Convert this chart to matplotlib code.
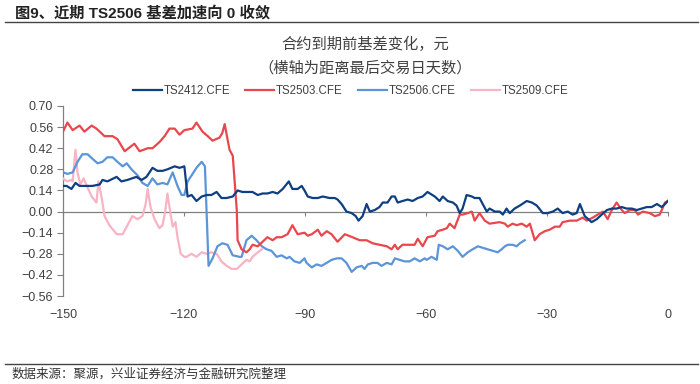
import matplotlib
matplotlib.use("Agg")
import matplotlib.pyplot as plt
import matplotlib.lines as mlines

plt.rcParams['font.family'] = ['Liberation Sans', 'Noto Sans CJK SC', 'DejaVu Sans']

# days to last trading day
x_2412 = [-150, -149.1, -147.9, -146.9, -145.9, -143.9, -142.7, -140.9, -140.2, -139, -136.7, -135.5,
          -134, -131.8, -130.5, -129.3, -127.8, -126.6, -125.3, -124.1, -122.3, -121.1, -119.9, -119.1,
          -118.1, -116.9, -115.6, -114.3, -113.2, -111.9, -110.7, -109.4, -107.9, -106.7, -105.5, -104.2,
          -103, -101.7, -100.5, -99.3, -98, -96.8, -95.5, -94, -93.1, -91.8, -90.8, -90.1, -89.3, -88.1,
          -86.8, -85.6, -83.9, -82.6, -81.9, -80.9, -79.7, -78.4, -77.4, -76.7, -75.7, -74.7, -73.9,
          -72.7, -71.5, -70.7, -69.5, -68.5, -67.7, -67, -65.8, -64.5, -63.3, -62, -60.8, -59.6, -57.8,
          -56.6, -55.8, -54.6, -53.3, -52.4, -51.6, -50.9, -49.9, -48.6, -47.9, -46.7, -45.9, -44.9,
          -44.2, -42.9, -41.7, -40.9, -40, -39.2, -38, -36.7, -35, -33.7, -32.5, -31, -29.8, -28.5,
          -27.3, -26.1, -24.8, -23.6, -22.6, -21.8, -20.6, -18.9, -17.6, -16.4, -15.1, -13.9, -12.7,
          -11.4, -10.2, -8.9, -7.7, -6.5, -5.2, -4, -2.7, -1.5, -0.7, 0]
y_2412 = [0.17, 0.17, 0.15, 0.19, 0.17, 0.17, 0.17, 0.18, 0.21, 0.20, 0.23, 0.20,
          0.21, 0.23, 0.21, 0.23, 0.29, 0.27, 0.27, 0.28, 0.30, 0.29, 0.30, 0.10,
          0.11, 0.07, 0.10, 0.11, 0.11, 0.13, 0.09, 0.09, 0.10, 0.14, 0.13, 0.13,
          0.13, 0.11, 0.12, 0.12, 0.13, 0.12, 0.15, 0.20, 0.15, 0.15, 0.17, 0.14, 0.10, 0.09,
          0.09, 0.10, 0.09, 0.09, 0.08, 0.05, 0.00, -0.01, -0.03, -0.06, -0.03, 0.05, 0.00,
          0.01, 0.03, 0.06, 0.06, 0.10, 0.10, 0.06, 0.07, 0.08, 0.07, 0.09, 0.10, 0.13, 0.10,
          0.07, 0.10, 0.07, 0.06, 0.04, -0.01, 0.02, 0.11, 0.10, 0.09, 0.09, 0.05, 0.00,
          0.02, 0.00, 0.00, -0.02, 0.02, -0.01, 0.02, 0.04, 0.07, 0.06, 0.04, -0.01, -0.01, 0.00,
          0.02, -0.01, 0.00, -0.02, -0.01, 0.05, -0.03, -0.07, -0.05, -0.02, 0.01, 0.02, 0.02,
          0.03, 0.02, 0.02, 0.01, 0.02, 0.03, 0.03, 0.05, 0.03, 0.05, 0.07]

x_2503 = [-150, -148.9, -147.6, -145.9, -144.7, -142.9, -141.7, -139.7, -137.7, -136.5, -134.7, -132.3,
          -131, -129, -127.8, -126.1, -124.8, -123.6, -122.3, -121.1, -119.9, -117.9, -116.9, -115.4,
          -114.1, -112.9, -111.2, -110.5, -109.9, -108.7, -107.9, -106.9, -106.7, -105.7, -104.5, -103.7,
          -103, -101.7, -100.5, -99.3, -98, -97, -95.8, -94.3, -93.1, -91.8, -90.1, -89.3, -88.3, -86.8,
          -85.9, -84.6, -83.4, -81.9, -80.1, -78.2, -76.4, -74.7, -73.2, -71.5, -69.7, -68.5, -67.7,
          -67, -65.8, -64, -62.8, -62, -60.8, -59.6, -57.8, -57.1, -55.8, -54.8, -54.1, -52.9, -51.6,
          -50.9, -49.6, -48.6, -47.9, -46.7, -45.4, -44.2, -41.7, -40.4, -39.7, -38.5, -37.5, -36.2,
          -35, -34.2, -33, -31.8, -30.5, -29.3, -28, -26.8, -26.1, -24.3, -22.6, -21.1, -20.1, -18.6,
          -17.4, -16.1, -14.9, -13.9, -12.7, -11.4, -10.7, -9.4, -8.2, -7.4, -6.2, -4.5, -3.2, -2,
          -0.7, 0]
y_2503 = [0.53, 0.59, 0.54, 0.57, 0.53, 0.57, 0.55, 0.50, 0.50, 0.48, 0.40, 0.45,
          0.40, 0.42, 0.42, 0.46, 0.50, 0.55, 0.55, 0.51, 0.54, 0.55, 0.59, 0.53,
          0.50, 0.47, 0.49, 0.52, 0.58, 0.41, 0.37, 0.01, -0.19, -0.25, -0.27, -0.25,
          -0.22, -0.23, -0.20, -0.17, -0.19, -0.17, -0.17, -0.15, -0.09, -0.15, -0.14, -0.16, -0.15, -0.12,
          -0.16, -0.13, -0.15, -0.20, -0.15, -0.17, -0.19, -0.19, -0.21, -0.22, -0.23, -0.25, -0.22,
          -0.25, -0.22, -0.22, -0.22, -0.18, -0.23, -0.17, -0.16, -0.13, -0.12, -0.11, -0.08, -0.11, -0.02,
          -0.02, -0.01, 0.00, -0.06, -0.01, -0.06, -0.08, -0.07, -0.08, -0.10, -0.08, -0.09, -0.08,
          -0.10, -0.08, -0.19, -0.15, -0.13, -0.12, -0.10, -0.10, -0.07, -0.06, -0.06, -0.04, -0.06, -0.04,
          -0.02, 0.00, -0.05, 0.01, 0.06, 0.01, -0.01, 0.01, 0.01, -0.02, 0.00, -0.01, -0.03, -0.02,
          0.06, 0.07]

x_2506 = [-150, -148.9, -147.6, -146.4, -145.2, -143.9, -142.7, -141.4, -140.2, -139, -137.7, -136.5,
          -135.2, -134.2, -133, -131.5, -130.3, -129, -127.8, -126.6, -125.3, -124.1, -122.8, -121.6,
          -120.6, -119.9, -119.1, -118.1, -116.9, -115.6, -114.8, -113.9, -112.9, -111.7, -110.5, -109.2,
          -107.9, -106.2, -105.7, -104.5, -103.2, -102, -100.7, -99.5, -98.3, -97, -95.8, -94.5, -93.8,
          -92.6, -91.3, -90.1, -89.6, -88.3, -87.1, -85.9, -84.6, -83.4, -82.1, -80.9, -79.7, -78.4,
          -77.2, -75.9, -75.2, -74.4, -73.2, -72, -71, -69.7, -68.5, -67.7, -66.5, -65.3, -64, -62.8,
          -61.5, -60.3, -59.8, -58.6, -57.3, -56.8, -55.8, -54.6, -53.3, -52.1, -50.9, -49.6, -48.4,
          -47.1, -45.9, -44.7, -43.4, -42.2, -41.2, -40.4, -39.7, -38.5, -37.5, -36.7, -35.5]
y_2506 = [0.26, 0.25, 0.26, 0.33, 0.38, 0.38, 0.35, 0.32, 0.33, 0.36, 0.36, 0.33,
          0.30, 0.32, 0.28, 0.24, 0.19, 0.17, 0.22, 0.18, 0.19, 0.18, 0.26, 0.17,
          0.11, 0.11, 0.20, 0.24, 0.29, 0.33, 0.30, -0.36, -0.31, -0.23, -0.21, -0.22,
          -0.29, -0.30, -0.30, -0.19, -0.16, -0.19, -0.23, -0.25, -0.26, -0.30, -0.29, -0.31, -0.30,
          -0.33, -0.34, -0.31, -0.34, -0.37, -0.35, -0.36, -0.34, -0.32, -0.31, -0.31, -0.34, -0.40,
          -0.37, -0.36, -0.38, -0.35, -0.34, -0.34, -0.36, -0.34, -0.35, -0.31, -0.32, -0.33, -0.33, -0.31,
          -0.33, -0.31, -0.32, -0.30, -0.32, -0.22, -0.23, -0.25, -0.23, -0.26, -0.30, -0.27, -0.25,
          -0.23, -0.24, -0.25, -0.26, -0.27, -0.25, -0.23, -0.22, -0.22, -0.23, -0.21, -0.19]

x_2509 = [-150, -149.6, -148.9, -147.9, -147.6, -146.9, -146.4, -145.7, -144.9, -143.9, -142.9, -141.7,
          -141.2, -140.4, -139.7, -138.5, -136.7, -135.2, -134, -132.8, -131.5, -130.3, -129.5, -129,
          -128.3, -127.3, -126.1, -125.3, -124.6, -124.1, -123.3, -122.8, -122.1, -121.6, -120.8, -119.9,
          -119.4, -118.1, -116.9, -115.6, -114.3, -113.2, -111.9, -110.7, -109.4, -108.2, -106.9, -105.7,
          -104.5, -103.7, -103, -101.7, -100.7]
y_2509 = [0.22, 0.21, 0.20, 0.21, 0.20, 0.41, 0.26, 0.18, 0.22, 0.16, 0.10, 0.06,
          0.20, 0.09, -0.03, -0.09, -0.15, -0.15, -0.09, -0.03, -0.05, -0.03, 0.05, 0.15,
          0.03, -0.05, -0.11, -0.09, 0.01, 0.12, -0.02, -0.10, -0.07, -0.17, -0.28, -0.30,
          -0.30, -0.28, -0.30, -0.27, -0.28, -0.27, -0.28, -0.33, -0.36, -0.38, -0.38, -0.35,
          -0.32, -0.33, -0.30, -0.27, -0.25]

names = ['TS2412.CFE', 'TS2503.CFE', 'TS2506.CFE', 'TS2509.CFE']
colors = ['#0e3f80', '#e8474d', '#5b95d8', '#f8b3c4']
yticks = [0.70, 0.56, 0.42, 0.28, 0.14, 0.00, -0.14, -0.28, -0.42, -0.56]
xticks = [-150, -120, -90, -60, -30, 0]

fig = plt.figure(figsize=(7, 3.84), dpi=100)
ax = fig.add_axes([0.09, 0.229, 0.864, 0.495])

series = [(x_2412, y_2412), (x_2503, y_2503), (x_2506, y_2506), (x_2509, y_2509)]
# pink first so it sits underneath like the original
order = [3, 2, 1, 0]
for i in order:
    xs, ys = series[i]
    ax.plot(xs, ys, color=colors[i], lw=1.6, solid_joinstyle='round', zorder=3 + (3 - i) * 0.1)

ax.set_xlim(-150, 0)
ax.set_ylim(-0.56, 0.70)
ax.set_yticks(yticks)
ax.set_yticklabels(['%.2f' % v if v >= 0 else '\u2212%.2f' % abs(v) for v in yticks])
ax.tick_params(axis='y', direction='out', length=4, width=0.8, color='#808080',
               labelsize=9, labelcolor='#404040', pad=3)

for s in ['top', 'right']:
    ax.spines[s].set_visible(False)
ax.spines['left'].set_color('#808080')
ax.spines['left'].set_linewidth(0.9)
ax.spines['bottom'].set_position(('data', 0))
ax.spines['bottom'].set_color('#808080')
ax.spines['bottom'].set_linewidth(0.9)
ax.spines['bottom'].set_zorder(2)
ax.set_xticks(xticks)
ax.tick_params(axis='x', direction='out', length=3, width=0.8, color='#808080', labelbottom=False)

# tick labels at the bottom of the plot
sec = ax.secondary_xaxis('bottom')
sec.set_xticks(xticks)
sec.set_xticklabels(['\u2212%d' % abs(v) if v < 0 else '%d' % v for v in xticks])
sec.tick_params(length=0, labelsize=9, labelcolor='#404040', pad=9)
sec.spines['bottom'].set_visible(False)

# legend
handles = [mlines.Line2D([], [], color=c, lw=1.6) for c in colors]
fig.legend(handles, names, loc='center', bbox_to_anchor=(0.501, 0.763), ncol=4, frameon=False,
           fontsize=8.3, handlelength=2.5, handletextpad=0.15, columnspacing=1.35,
           labelcolor='#404040')

# titles
cjk = ['Noto Sans CJK SC', 'DejaVu Sans']
fig.text(0.522, 1 - 44 / 384, '合约到期前基差变化，元', ha='center', va='center',
         fontsize=11, color='#404040', family=cjk)
fig.text(0.522, 1 - 68 / 384, '（横轴为距离最后交易日天数）', ha='center', va='center',
         fontsize=11, color='#404040', family=cjk)

fig.text(15 / 700, 1 - 13 / 384, '图9、近期 TS2506 基差加速向 0 收敛', ha='left', va='center',
         fontsize=11, fontweight='bold', color='#222222',
         family=['Liberation Sans', 'Noto Sans CJK SC', 'DejaVu Sans'])
fig.add_artist(mlines.Line2D([5 / 700, 698 / 700], [1 - 22 / 384, 1 - 22 / 384],
                             color='#444444', lw=1.0))

fig.add_artist(mlines.Line2D([5 / 700, 698 / 700], [1 - 364 / 384, 1 - 364 / 384],
                             color='#444444', lw=1.0))
fig.text(12 / 700, 1 - 374 / 384, '数据来源：聚源，兴业证券经济与金融研究院整理', ha='left',
         va='center', fontsize=9, color='#333333', family=cjk)

fig.savefig('out.png', dpi=100)
